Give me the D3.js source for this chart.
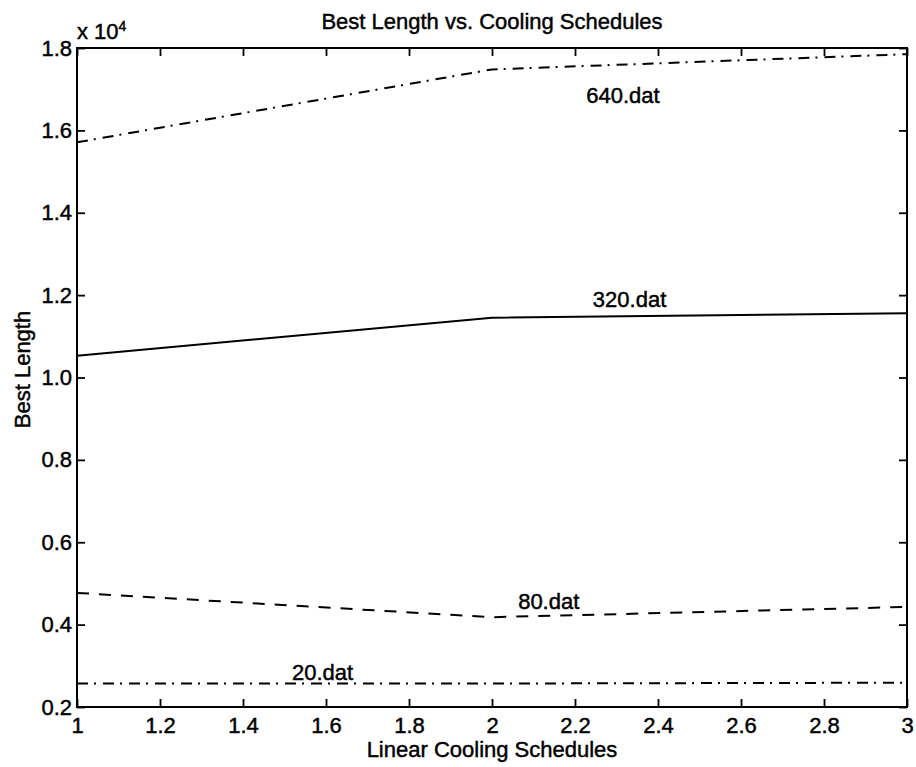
<!DOCTYPE html>
<html>
<head>
<meta charset="utf-8">
<script src="https://cdn.jsdelivr.net/npm/d3@7"></script>
<style>
  html, body { margin: 0; padding: 0; background: #fff; }
  svg { display: block; }
  text { font-family: "Liberation Sans", Arial, Helvetica, sans-serif; fill: #000; stroke: #000; stroke-width: 0.45px; }
</style>
</head>
<body>
<svg id="chart" width="916" height="767"></svg>
<script>
// Cooling schedule index along the x axis
const schedules = [1, 2, 3];

// Best tour length per problem file
const len20  = [2570, 2570, 2590];
const len80  = [4770, 4180, 4430];
const len320 = [10530, 11450, 11560];
const len640 = [15710, 17480, 17850];

const seriesNames = ["20.dat", "80.dat", "320.dat", "640.dat"];
const seriesValues = [len20, len80, len320, len640];

// Inline label anchors (data coordinates)
const labelX = [1.518, 2.063, 2.243, 2.227];
const labelY = [2655, 4380, 11720, 16660];

const xTicks = [1, 1.2, 1.4, 1.6, 1.8, 2, 2.2, 2.4, 2.6, 2.8, 3];
const yTicks = [2000, 4000, 6000, 8000, 10000, 12000, 14000, 16000, 18000];

const titleText = "Best Length vs. Cooling Schedules";
const xLabelText = "Linear Cooling Schedules";
const yLabelText = "Best Length";

// Line styles for each series
const dashStyles = ["11,6,2,7", "12,10", null, "11,6,2,7"];

const svg = d3.select("#chart");
const margin = { left: 77, top: 48, right: 9, bottom: 60 };
const W = 916, H = 767;
const x0 = margin.left, x1 = W - margin.right;
const y0 = margin.top, y1 = H - margin.bottom;

const x = d3.scaleLinear().domain([1, 3]).range([x0, x1]);
const y = d3.scaleLinear().domain([2000, 18000]).range([y1, y0]);

const fmtX = d => String(+d.toFixed(1));
const fmtY = d => (d / 10000).toFixed(1);

const FS = 22;

// Axes with inward ticks
const gx = svg.append("g").attr("transform", `translate(0,${y1})`)
  .call(d3.axisBottom(x).tickValues(xTicks).tickFormat(fmtX)
    .tickSizeInner(-8).tickSizeOuter(0).tickPadding(10));
const gy = svg.append("g").attr("transform", `translate(${x0},0)`)
  .call(d3.axisLeft(y).tickValues(yTicks).tickFormat(fmtY)
    .tickSizeInner(-8).tickSizeOuter(0).tickPadding(5));
const gt = svg.append("g").attr("transform", `translate(0,${y0})`)
  .call(d3.axisTop(x).tickValues(xTicks).tickFormat("")
    .tickSizeInner(-8).tickSizeOuter(0));
const gr = svg.append("g").attr("transform", `translate(${x1},0)`)
  .call(d3.axisRight(y).tickValues(yTicks).tickFormat("")
    .tickSizeInner(-8).tickSizeOuter(0));

[gx, gy, gt, gr].forEach(g => {
  g.select(".domain").remove();
  g.selectAll(".tick line").attr("stroke", "#000").attr("stroke-width", 1.8);
  g.selectAll(".tick text")
    .style("font-family", '"Liberation Sans", Arial, sans-serif')
    .style("font-size", FS + "px")
    .attr("fill", "#000");
});

// Box around the plot area
svg.append("rect")
  .attr("x", x0).attr("y", y0)
  .attr("width", x1 - x0).attr("height", y1 - y0)
  .attr("fill", "none").attr("stroke", "#000").attr("stroke-width", 2);

// Series lines
const line = d3.line().x((d, i) => x(schedules[i])).y(d => y(d));
seriesValues.forEach((vals, k) => {
  svg.append("path")
    .datum(vals)
    .attr("d", line)
    .attr("fill", "none")
    .attr("stroke", "#000")
    .attr("stroke-width", 2)
    .attr("stroke-dasharray", dashStyles[k]);
});

// Inline series labels
seriesNames.forEach((name, k) => {
  svg.append("text")
    .attr("x", x(labelX[k]))
    .attr("y", y(labelY[k]))
    .style("font-size", FS + "px")
    .text(name);
});

// Title and axis labels
svg.append("text")
  .attr("x", (x0 + x1) / 2).attr("y", 29)
  .attr("text-anchor", "middle")
  .style("font-size", FS + "px")
  .text(titleText);

svg.append("text")
  .attr("x", (x0 + x1) / 2).attr("y", 757)
  .attr("text-anchor", "middle")
  .style("font-size", FS + "px")
  .text(xLabelText);

svg.append("text")
  .attr("transform", `translate(30,${(y0 + y1) / 2 - 8}) rotate(-90)`)
  .attr("text-anchor", "middle")
  .style("font-size", FS + "px")
  .text(yLabelText);

// Exponent marker for the y axis
const expo = svg.append("text")
  .attr("x", x0).attr("y", 39)
  .style("font-size", FS + "px");
expo.append("tspan").text("x 10");
expo.append("tspan")
  .attr("dy", -8)
  .style("font-size", "14px")
  .text("4");
</script>
</body>
</html>
